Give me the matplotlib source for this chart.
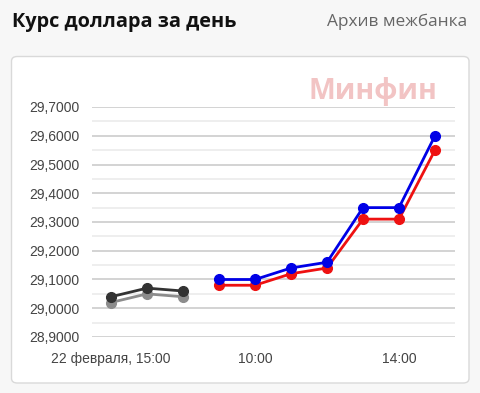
import matplotlib
matplotlib.use("Agg")
import matplotlib.pyplot as plt
from matplotlib.patches import FancyBboxPatch
from matplotlib.ticker import MultipleLocator, FuncFormatter

# Data
prev_x = [0, 1, 2]
prev_dark = [29.04, 29.07, 29.06]
prev_gray = [29.02, 29.05, 29.04]
today_x = [3, 4, 5, 6, 7, 8, 9]
today_blue = [29.10, 29.10, 29.14, 29.16, 29.35, 29.35, 29.60]
today_red = [29.08, 29.08, 29.12, 29.14, 29.31, 29.31, 29.55]
tick_pos = [0, 4, 8]
tick_labels = ["22 февраля, 15:00", "10:00", "14:00"]

W, H = 481, 393
fig = plt.figure(figsize=(W / 100, H / 100), dpi=100)
fig.patch.set_facecolor("#f7f7f7")

# white panel
panel = FancyBboxPatch((11.5 / W, 1 - 383 / H), (469 - 11.5) / W, (383 - 56.5) / H,
                       boxstyle="round,pad=0,rounding_size=0.012",
                       transform=fig.transFigure, facecolor="white",
                       edgecolor="#d9d9d9", linewidth=1.0, zorder=0)
fig.patches.append(panel)

fig.text(12 / W, 1 - 22 / H, "Курс доллара за день", fontsize=14.3, fontweight="bold",
         family="Open Sans", color="#111111", va="center", ha="left")
fig.text(467 / W, 1 - 22 / H, "Архив межбанка", fontsize=12.4,
         family="Open Sans", color="#666666", va="center", ha="right")

ax = fig.add_axes([92 / W, 1 - 337 / H, (455 - 92) / W, (337 - 107) / H])
ax.set_facecolor("white")
ax.set_zorder(2)
ax.patch.set_alpha(0)

ax.set_xlim(-19 / 36, 9 + 20 / 36)
ax.set_ylim(28.9, 29.7)

ax.yaxis.set_major_locator(MultipleLocator(0.1))
ax.yaxis.set_minor_locator(MultipleLocator(0.05))
ax.yaxis.set_major_formatter(FuncFormatter(lambda v, p: f"{v:.4f}".replace(".", ",")))
ax.grid(True, which="major", axis="y", color="#cccccc", linewidth=1.2)
ax.grid(True, which="minor", axis="y", color="#ebebeb", linewidth=1.2)
ax.set_axisbelow(True)

for s in ax.spines.values():
    s.set_visible(False)
ax.tick_params(axis="both", which="both", length=0)
ax.tick_params(axis="y", pad=9, labelsize=10, labelcolor="#444444")
ax.tick_params(axis="x", pad=11, labelsize=10, labelcolor="#444444")
ax.set_xticks(tick_pos)
ax.set_xticklabels(tick_labels)
for lab in ax.get_xticklabels() + ax.get_yticklabels():
    lab.set_family("Liberation Sans")

kw = dict(linewidth=2, marker="o", markersize=7, clip_on=False)
ax.plot(prev_x, prev_gray, color="#8c8c8c", **kw)
ax.plot(prev_x, prev_dark, color="#333333", **kw)
ax.plot(today_x, today_red, color="#ee1111", **kw)
ax.plot(today_x, today_blue, color="#0000e6", **kw)

fig.text(373 / W, 1 - 91 / H, "Минфин", fontsize=20.5, fontweight="bold",
         family="Open Sans", color="#f2c4c4", ha="center", va="center", zorder=1)

fig.savefig("out.png", dpi=100, facecolor=fig.get_facecolor())
